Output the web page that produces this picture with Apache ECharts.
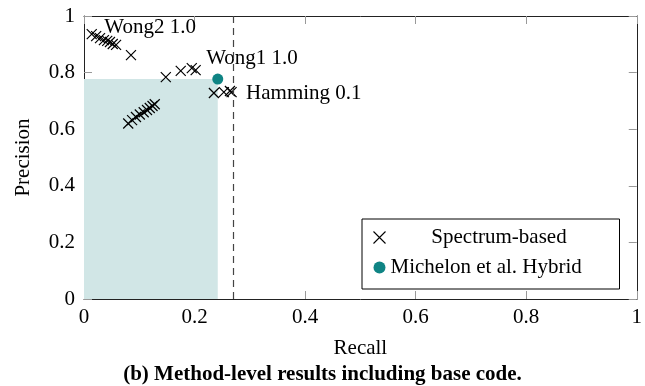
<!DOCTYPE html>
<html>
<head>
<meta charset="utf-8">
<script src="https://cdn.jsdelivr.net/npm/echarts@6/dist/echarts.min.js"></script>
<style>
  html, body { margin: 0; padding: 0; background: #fff; }
  #main { width: 645px; height: 386px; }
</style>
</head>
<body>
<div id="main"></div>
<script>
// values
var spectrumRecall = [0.014, 0.022, 0.029, 0.036, 0.042, 0.047, 0.052, 0.058, 0.085,
                      0.080, 0.087, 0.094, 0.101, 0.108, 0.114, 0.119, 0.124, 0.128,
                      0.148, 0.175, 0.195, 0.202,
                      0.235, 0.253, 0.264, 0.267];
var spectrumPrecision = [0.936, 0.929, 0.922, 0.915, 0.912, 0.908, 0.901, 0.898, 0.862,
                         0.620, 0.632, 0.643, 0.652, 0.660, 0.668, 0.675, 0.682, 0.688,
                         0.784, 0.806, 0.816, 0.809,
                         0.728, 0.731, 0.735, 0.731];
var hybridRecall = [0.242];
var hybridPrecision = [0.777];
var thresholdRecall = 0.27;
var pointNotes = { 0: 'Wong2 1.0', 21: 'Wong1 1.0', 25: 'Hamming 0.1' };

var serif = '"Liberation Serif", "DejaVu Serif", serif';
var teal = '#0f8484';
var crossPath = 'path://M0,0L10,10M10,0L0,10';
var fs = 21;

function makeAxis(pos, extra) {
  var ax = {
    type: 'value', min: 0, max: 1, interval: 0.2, position: pos,
    axisLine: { show: true, onZero: false, lineStyle: { color: '#222', width: 1 } },
    axisTick: { show: true, inside: true, length: 8, lineStyle: { color: '#999', width: 1 } },
    axisLabel: { show: false },
    splitLine: { show: false }
  };
  return Object.assign(ax, extra || {});
}

window.onload = function () {
  var chart = echarts.init(document.getElementById('main'));

  var noteOffset = { 0: [0, -7], 21: [-2, -12], 25: [2, 1] };
  var spectrumData = spectrumRecall.map(function (r, i) {
    var item = { value: [r, spectrumPrecision[i]] };
    if (pointNotes[i]) {
      item.label = {
        show: true, position: 'right', formatter: pointNotes[i],
        offset: noteOffset[i], color: '#000', fontFamily: serif, fontSize: fs
      };
    }
    return item;
  });
  var hybridData = hybridRecall.map(function (r, i) { return [r, hybridPrecision[i]]; });

  var labelStyle = { show: true, fontFamily: serif, fontSize: fs, color: '#000' };

  var option = {
    animation: false,
    textStyle: { fontFamily: serif },
    title: {
      text: '(b) Method-level results including base code.',
      left: 'center', top: 359,
      textStyle: { fontFamily: serif, fontSize: fs, fontWeight: 'bold', color: '#000' }
    },
    grid: { left: 84, right: 8, top: 16, bottom: 87 },
    legend: {
      orient: 'vertical', left: 362, top: 219,
      padding: [7, 12, 10, 9], itemGap: 7,
      borderColor: '#000', borderWidth: 1, backgroundColor: '#fff',
      itemWidth: 12, itemHeight: 12,
      textStyle: {
        fontFamily: serif, fontSize: fs, color: '#000', lineHeight: 23,
        rich: { c: { width: 217, align: 'center', fontFamily: serif, fontSize: fs, lineHeight: 23 } }
      },
      data: [
        { name: 'Spectrum-based', icon: crossPath,
          itemStyle: { color: 'none', borderColor: '#000', borderWidth: 1.1, opacity: 1 } },
        { name: 'Michelon et al. Hybrid', icon: 'circle',
          itemStyle: { color: teal, opacity: 1 } }
      ],
      formatter: function (name) {
        return name === 'Spectrum-based' ? '{c|' + name + '}' : name;
      },
      selectedMode: false
    },
    xAxis: [
      makeAxis('bottom', {
        name: 'Recall', nameLocation: 'middle', nameGap: 39,
        nameTextStyle: { fontFamily: serif, fontSize: fs, color: '#000' },
        axisLabel: Object.assign({ margin: 8 }, labelStyle)
      }),
      makeAxis('top')
    ],
    yAxis: [
      makeAxis('left', {
        name: 'Precision', nameLocation: 'middle', nameGap: 50,
        nameTextStyle: { fontFamily: serif, fontSize: fs, color: '#000' },
        axisLabel: Object.assign({ margin: 9 }, labelStyle)
      }),
      makeAxis('right')
    ],
    series: [
      {
        // shaded region and threshold line
        type: 'scatter', data: [], z: 1, silent: true,
        markArea: {
          silent: true,
          itemStyle: { color: '#d1e6e6', opacity: 1 },
          data: [[{ coord: [0, 0] }, { coord: [hybridRecall[0], hybridPrecision[0]] }]]
        },
        markLine: {
          silent: true, symbol: 'none', label: { show: false },
          lineStyle: { color: '#444', type: [7, 5], width: 1.2 },
          data: [[{ coord: [thresholdRecall, 0] }, { coord: [thresholdRecall, 1] }]]
        }
      },
      {
        name: 'Spectrum-based', type: 'scatter', z: 3,
        symbol: crossPath, symbolSize: 10,
        itemStyle: { color: 'none', borderColor: '#000', borderWidth: 1.2, opacity: 1 },
        data: spectrumData
      },
      {
        name: 'Michelon et al. Hybrid', type: 'scatter', z: 4,
        symbol: 'circle', symbolSize: 11,
        itemStyle: { color: teal, opacity: 1 },
        data: hybridData
      }
    ]
  };

  chart.setOption(option);
};
</script>
</body>
</html>
